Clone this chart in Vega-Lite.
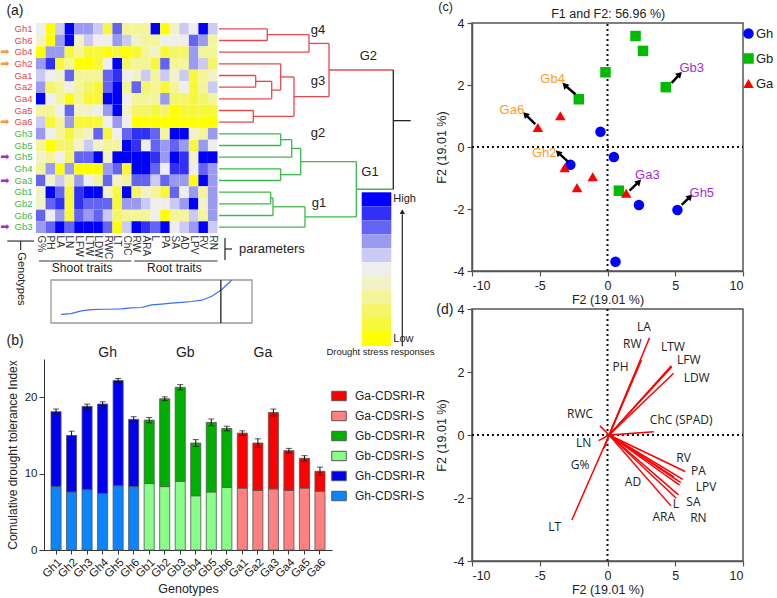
{
"$schema": "https://vega.github.io/schema/vega-lite/v6.json",
"background": "white",
"padding": {"left": 0, "top": 0, "right": 0, "bottom": 0},
"config": {
 "font": "Liberation Sans",
 "view": {"stroke": null},
 "axis": {"grid": false, "labelFont": "Liberation Sans", "titleFont": "Liberation Sans", "titleFontWeight": "normal", "labelColor": "#222", "titleColor": "#222"},
 "legend": {"labelFont": "Liberation Sans", "labelColor": "#222"},
 "text": {"font": "Liberation Sans", "color": "#222"}
},
"datasets": {
 "heat": [
{"g":"Gh1","t":"G%","v":0},{"g":"Gh1","t":"PH","v":-5},{"g":"Gh1","t":"LA","v":1},{"g":"Gh1","t":"LN","v":5},{"g":"Gh1","t":"LFW","v":2},{"g":"Gh1","t":"LTW","v":2},{"g":"Gh1","t":"LDW","v":1},{"g":"Gh1","t":"RWC","v":-4},{"g":"Gh1","t":"LT","v":3},{"g":"Gh1","t":"ChC","v":-2},{"g":"Gh1","t":"RW","v":-2},{"g":"Gh1","t":"ARA","v":-2},{"g":"Gh1","t":"L","v":5},{"g":"Gh1","t":"PA","v":-5},{"g":"Gh1","t":"SA","v":-1},{"g":"Gh1","t":"AD","v":1},{"g":"Gh1","t":"LPV","v":0},{"g":"Gh1","t":"RV","v":5},{"g":"Gh1","t":"RN","v":1},
{"g":"Gh6","t":"G%","v":-1},{"g":"Gh6","t":"PH","v":-5},{"g":"Gh6","t":"LA","v":2},{"g":"Gh6","t":"LN","v":5},{"g":"Gh6","t":"LFW","v":-1},{"g":"Gh6","t":"LTW","v":1},{"g":"Gh6","t":"LDW","v":0},{"g":"Gh6","t":"RWC","v":0},{"g":"Gh6","t":"LT","v":2},{"g":"Gh6","t":"ChC","v":1},{"g":"Gh6","t":"RW","v":-1},{"g":"Gh6","t":"ARA","v":-2},{"g":"Gh6","t":"L","v":-2},{"g":"Gh6","t":"PA","v":0},{"g":"Gh6","t":"SA","v":0},{"g":"Gh6","t":"AD","v":0},{"g":"Gh6","t":"LPV","v":3},{"g":"Gh6","t":"RV","v":2},{"g":"Gh6","t":"RN","v":-2},
{"g":"Gb4","t":"G%","v":-5},{"g":"Gb4","t":"PH","v":2},{"g":"Gb4","t":"LA","v":2},{"g":"Gb4","t":"LN","v":-4},{"g":"Gb4","t":"LFW","v":-2},{"g":"Gb4","t":"LTW","v":-4},{"g":"Gb4","t":"LDW","v":-4},{"g":"Gb4","t":"RWC","v":-5},{"g":"Gb4","t":"LT","v":-4},{"g":"Gb4","t":"ChC","v":-5},{"g":"Gb4","t":"RW","v":-4},{"g":"Gb4","t":"ARA","v":-2},{"g":"Gb4","t":"L","v":-1},{"g":"Gb4","t":"PA","v":-4},{"g":"Gb4","t":"SA","v":-3},{"g":"Gb4","t":"AD","v":-3},{"g":"Gb4","t":"LPV","v":2},{"g":"Gb4","t":"RV","v":-2},{"g":"Gb4","t":"RN","v":-2},
{"g":"Gh2","t":"G%","v":2},{"g":"Gh2","t":"PH","v":4},{"g":"Gh2","t":"LA","v":-4},{"g":"Gh2","t":"LN","v":-2},{"g":"Gh2","t":"LFW","v":-5},{"g":"Gh2","t":"LTW","v":-5},{"g":"Gh2","t":"LDW","v":-4},{"g":"Gh2","t":"RWC","v":0},{"g":"Gh2","t":"LT","v":5},{"g":"Gh2","t":"ChC","v":-3},{"g":"Gh2","t":"RW","v":-2},{"g":"Gh2","t":"ARA","v":-2},{"g":"Gh2","t":"L","v":-4},{"g":"Gh2","t":"PA","v":3},{"g":"Gh2","t":"SA","v":-2},{"g":"Gh2","t":"AD","v":-2},{"g":"Gh2","t":"LPV","v":2},{"g":"Gh2","t":"RV","v":1},{"g":"Gh2","t":"RN","v":-3},
{"g":"Ga1","t":"G%","v":1},{"g":"Ga1","t":"PH","v":0},{"g":"Ga1","t":"LA","v":-1},{"g":"Ga1","t":"LN","v":3},{"g":"Ga1","t":"LFW","v":-2},{"g":"Ga1","t":"LTW","v":-2},{"g":"Ga1","t":"LDW","v":-2},{"g":"Ga1","t":"RWC","v":3},{"g":"Ga1","t":"LT","v":4},{"g":"Ga1","t":"ChC","v":0},{"g":"Ga1","t":"RW","v":-1},{"g":"Ga1","t":"ARA","v":1},{"g":"Ga1","t":"L","v":-2},{"g":"Ga1","t":"PA","v":1},{"g":"Ga1","t":"SA","v":-1},{"g":"Ga1","t":"AD","v":1},{"g":"Ga1","t":"LPV","v":-4},{"g":"Ga1","t":"RV","v":-2},{"g":"Ga1","t":"RN","v":-1},
{"g":"Ga2","t":"G%","v":2},{"g":"Ga2","t":"PH","v":-3},{"g":"Ga2","t":"LA","v":-2},{"g":"Ga2","t":"LN","v":0},{"g":"Ga2","t":"LFW","v":-2},{"g":"Ga2","t":"LTW","v":-3},{"g":"Ga2","t":"LDW","v":-4},{"g":"Ga2","t":"RWC","v":3},{"g":"Ga2","t":"LT","v":5},{"g":"Ga2","t":"ChC","v":-2},{"g":"Ga2","t":"RW","v":3},{"g":"Ga2","t":"ARA","v":-3},{"g":"Ga2","t":"L","v":-2},{"g":"Ga2","t":"PA","v":-4},{"g":"Ga2","t":"SA","v":-2},{"g":"Ga2","t":"AD","v":0},{"g":"Ga2","t":"LPV","v":-4},{"g":"Ga2","t":"RV","v":-2},{"g":"Ga2","t":"RN","v":1},
{"g":"Ga4","t":"G%","v":5},{"g":"Ga4","t":"PH","v":0},{"g":"Ga4","t":"LA","v":-2},{"g":"Ga4","t":"LN","v":-5},{"g":"Ga4","t":"LFW","v":-2},{"g":"Ga4","t":"LTW","v":-4},{"g":"Ga4","t":"LDW","v":-4},{"g":"Ga4","t":"RWC","v":5},{"g":"Ga4","t":"LT","v":5},{"g":"Ga4","t":"ChC","v":0},{"g":"Ga4","t":"RW","v":-2},{"g":"Ga4","t":"ARA","v":-2},{"g":"Ga4","t":"L","v":-2},{"g":"Ga4","t":"PA","v":2},{"g":"Ga4","t":"SA","v":-3},{"g":"Ga4","t":"AD","v":-3},{"g":"Ga4","t":"LPV","v":-4},{"g":"Ga4","t":"RV","v":-3},{"g":"Ga4","t":"RN","v":-2},
{"g":"Ga5","t":"G%","v":-2},{"g":"Ga5","t":"PH","v":-2},{"g":"Ga5","t":"LA","v":0},{"g":"Ga5","t":"LN","v":3},{"g":"Ga5","t":"LFW","v":-1},{"g":"Ga5","t":"LTW","v":-1},{"g":"Ga5","t":"LDW","v":0},{"g":"Ga5","t":"RWC","v":2},{"g":"Ga5","t":"LT","v":5},{"g":"Ga5","t":"ChC","v":-1},{"g":"Ga5","t":"RW","v":-3},{"g":"Ga5","t":"ARA","v":-3},{"g":"Ga5","t":"L","v":-4},{"g":"Ga5","t":"PA","v":-3},{"g":"Ga5","t":"SA","v":-5},{"g":"Ga5","t":"AD","v":-4},{"g":"Ga5","t":"LPV","v":-4},{"g":"Ga5","t":"RV","v":-4},{"g":"Ga5","t":"RN","v":-4},
{"g":"Ga6","t":"G%","v":1},{"g":"Ga6","t":"PH","v":-4},{"g":"Ga6","t":"LA","v":-2},{"g":"Ga6","t":"LN","v":2},{"g":"Ga6","t":"LFW","v":-4},{"g":"Ga6","t":"LTW","v":-4},{"g":"Ga6","t":"LDW","v":-4},{"g":"Ga6","t":"RWC","v":0},{"g":"Ga6","t":"LT","v":2},{"g":"Ga6","t":"ChC","v":0},{"g":"Ga6","t":"RW","v":-5},{"g":"Ga6","t":"ARA","v":-5},{"g":"Ga6","t":"L","v":-5},{"g":"Ga6","t":"PA","v":-5},{"g":"Ga6","t":"SA","v":-5},{"g":"Ga6","t":"AD","v":-5},{"g":"Ga6","t":"LPV","v":-5},{"g":"Ga6","t":"RV","v":-5},{"g":"Ga6","t":"RN","v":-5},
{"g":"Gh3","t":"G%","v":2},{"g":"Gh3","t":"PH","v":0},{"g":"Gh3","t":"LA","v":-2},{"g":"Gh3","t":"LN","v":-4},{"g":"Gh3","t":"LFW","v":-2},{"g":"Gh3","t":"LTW","v":-1},{"g":"Gh3","t":"LDW","v":3},{"g":"Gh3","t":"RWC","v":-4},{"g":"Gh3","t":"LT","v":0},{"g":"Gh3","t":"ChC","v":3},{"g":"Gh3","t":"RW","v":4},{"g":"Gh3","t":"ARA","v":4},{"g":"Gh3","t":"L","v":3},{"g":"Gh3","t":"PA","v":-2},{"g":"Gh3","t":"SA","v":5},{"g":"Gh3","t":"AD","v":5},{"g":"Gh3","t":"LPV","v":-1},{"g":"Gh3","t":"RV","v":-2},{"g":"Gh3","t":"RN","v":2},
{"g":"Gb5","t":"G%","v":-2},{"g":"Gb5","t":"PH","v":-5},{"g":"Gb5","t":"LA","v":-3},{"g":"Gb5","t":"LN","v":-3},{"g":"Gb5","t":"LFW","v":-1},{"g":"Gb5","t":"LTW","v":1},{"g":"Gb5","t":"LDW","v":-1},{"g":"Gb5","t":"RWC","v":-2},{"g":"Gb5","t":"LT","v":-2},{"g":"Gb5","t":"ChC","v":5},{"g":"Gb5","t":"RW","v":4},{"g":"Gb5","t":"ARA","v":0},{"g":"Gb5","t":"L","v":3},{"g":"Gb5","t":"PA","v":2},{"g":"Gb5","t":"SA","v":3},{"g":"Gb5","t":"AD","v":2},{"g":"Gb5","t":"LPV","v":-4},{"g":"Gb5","t":"RV","v":2},{"g":"Gb5","t":"RN","v":0},
{"g":"Gh5","t":"G%","v":-1},{"g":"Gh5","t":"PH","v":-2},{"g":"Gh5","t":"LA","v":0},{"g":"Gh5","t":"LN","v":-3},{"g":"Gh5","t":"LFW","v":3},{"g":"Gh5","t":"LTW","v":3},{"g":"Gh5","t":"LDW","v":5},{"g":"Gh5","t":"RWC","v":-1},{"g":"Gh5","t":"LT","v":5},{"g":"Gh5","t":"ChC","v":5},{"g":"Gh5","t":"RW","v":5},{"g":"Gh5","t":"ARA","v":5},{"g":"Gh5","t":"L","v":4},{"g":"Gh5","t":"PA","v":2},{"g":"Gh5","t":"SA","v":5},{"g":"Gh5","t":"AD","v":4},{"g":"Gh5","t":"LPV","v":-1},{"g":"Gh5","t":"RV","v":5},{"g":"Gh5","t":"RN","v":5},
{"g":"Gh4","t":"G%","v":-2},{"g":"Gh4","t":"PH","v":2},{"g":"Gh4","t":"LA","v":-5},{"g":"Gh4","t":"LN","v":2},{"g":"Gh4","t":"LFW","v":-5},{"g":"Gh4","t":"LTW","v":-5},{"g":"Gh4","t":"LDW","v":-5},{"g":"Gh4","t":"RWC","v":2},{"g":"Gh4","t":"LT","v":3},{"g":"Gh4","t":"ChC","v":-4},{"g":"Gh4","t":"RW","v":5},{"g":"Gh4","t":"ARA","v":5},{"g":"Gh4","t":"L","v":3},{"g":"Gh4","t":"PA","v":0},{"g":"Gh4","t":"SA","v":4},{"g":"Gh4","t":"AD","v":4},{"g":"Gh4","t":"LPV","v":0},{"g":"Gh4","t":"RV","v":3},{"g":"Gh4","t":"RN","v":2},
{"g":"Ga3","t":"G%","v":3},{"g":"Ga3","t":"PH","v":-1},{"g":"Ga3","t":"LA","v":1},{"g":"Ga3","t":"LN","v":-2},{"g":"Ga3","t":"LFW","v":2},{"g":"Ga3","t":"LTW","v":0},{"g":"Ga3","t":"LDW","v":-2},{"g":"Ga3","t":"RWC","v":3},{"g":"Ga3","t":"LT","v":-1},{"g":"Ga3","t":"ChC","v":-2},{"g":"Ga3","t":"RW","v":3},{"g":"Ga3","t":"ARA","v":3},{"g":"Ga3","t":"L","v":1},{"g":"Ga3","t":"PA","v":3},{"g":"Ga3","t":"SA","v":2},{"g":"Ga3","t":"AD","v":2},{"g":"Ga3","t":"LPV","v":-5},{"g":"Ga3","t":"RV","v":5},{"g":"Ga3","t":"RN","v":2},
{"g":"Gb1","t":"G%","v":-1},{"g":"Gb1","t":"PH","v":5},{"g":"Gb1","t":"LA","v":3},{"g":"Gb1","t":"LN","v":-4},{"g":"Gb1","t":"LFW","v":4},{"g":"Gb1","t":"LTW","v":5},{"g":"Gb1","t":"LDW","v":5},{"g":"Gb1","t":"RWC","v":-1},{"g":"Gb1","t":"LT","v":-4},{"g":"Gb1","t":"ChC","v":5},{"g":"Gb1","t":"RW","v":-3},{"g":"Gb1","t":"ARA","v":-1},{"g":"Gb1","t":"L","v":-2},{"g":"Gb1","t":"PA","v":-4},{"g":"Gb1","t":"SA","v":3},{"g":"Gb1","t":"AD","v":0},{"g":"Gb1","t":"LPV","v":2},{"g":"Gb1","t":"RV","v":-2},{"g":"Gb1","t":"RN","v":2},
{"g":"Gb2","t":"G%","v":-1},{"g":"Gb2","t":"PH","v":3},{"g":"Gb2","t":"LA","v":4},{"g":"Gb2","t":"LN","v":-4},{"g":"Gb2","t":"LFW","v":4},{"g":"Gb2","t":"LTW","v":3},{"g":"Gb2","t":"LDW","v":3},{"g":"Gb2","t":"RWC","v":3},{"g":"Gb2","t":"LT","v":-4},{"g":"Gb2","t":"ChC","v":2},{"g":"Gb2","t":"RW","v":2},{"g":"Gb2","t":"ARA","v":1},{"g":"Gb2","t":"L","v":0},{"g":"Gb2","t":"PA","v":0},{"g":"Gb2","t":"SA","v":1},{"g":"Gb2","t":"AD","v":2},{"g":"Gb2","t":"LPV","v":5},{"g":"Gb2","t":"RV","v":-1},{"g":"Gb2","t":"RN","v":2},
{"g":"Gb6","t":"G%","v":3},{"g":"Gb6","t":"PH","v":0},{"g":"Gb6","t":"LA","v":2},{"g":"Gb6","t":"LN","v":-4},{"g":"Gb6","t":"LFW","v":3},{"g":"Gb6","t":"LTW","v":2},{"g":"Gb6","t":"LDW","v":3},{"g":"Gb6","t":"RWC","v":1},{"g":"Gb6","t":"LT","v":-3},{"g":"Gb6","t":"ChC","v":-2},{"g":"Gb6","t":"RW","v":-2},{"g":"Gb6","t":"ARA","v":-2},{"g":"Gb6","t":"L","v":0},{"g":"Gb6","t":"PA","v":-5},{"g":"Gb6","t":"SA","v":-2},{"g":"Gb6","t":"AD","v":-2},{"g":"Gb6","t":"LPV","v":1},{"g":"Gb6","t":"RV","v":-2},{"g":"Gb6","t":"RN","v":2},
{"g":"Gb3","t":"G%","v":2},{"g":"Gb3","t":"PH","v":3},{"g":"Gb3","t":"LA","v":5},{"g":"Gb3","t":"LN","v":3},{"g":"Gb3","t":"LFW","v":5},{"g":"Gb3","t":"LTW","v":5},{"g":"Gb3","t":"LDW","v":5},{"g":"Gb3","t":"RWC","v":3},{"g":"Gb3","t":"LT","v":-5},{"g":"Gb3","t":"ChC","v":1},{"g":"Gb3","t":"RW","v":5},{"g":"Gb3","t":"ARA","v":4},{"g":"Gb3","t":"L","v":3},{"g":"Gb3","t":"PA","v":5},{"g":"Gb3","t":"SA","v":0},{"g":"Gb3","t":"AD","v":1},{"g":"Gb3","t":"LPV","v":2},{"g":"Gb3","t":"RV","v":5},{"g":"Gb3","t":"RN","v":1}
 ],
 "dseg": [
{"x":0,"x2":48.3,"y":0,"y2":0,"c":"r"},{"x":0,"x2":48.3,"y":1,"y2":1,"c":"r"},{"x":0,"x2":90,"y":2,"y2":2,"c":"r"},{"x":0,"x2":61.7,"y":3,"y2":3,"c":"r"},{"x":0,"x2":36.7,"y":4,"y2":4,"c":"r"},{"x":0,"x2":36.7,"y":5,"y2":5,"c":"r"},{"x":0,"x2":52.7,"y":6,"y2":6,"c":"r"},{"x":0,"x2":34.3,"y":7,"y2":7,"c":"r"},{"x":0,"x2":34.3,"y":8,"y2":8,"c":"r"},
{"x":48.3,"x2":48.3,"y":0,"y2":1,"c":"r"},{"x":48.3,"x2":90,"y":0.5,"y2":0.5,"c":"r"},{"x":90,"x2":90,"y":0.5,"y2":2,"c":"r"},{"x":90,"x2":110,"y":1.25,"y2":1.25,"c":"r"},
{"x":36.7,"x2":36.7,"y":4,"y2":5,"c":"r"},{"x":36.7,"x2":52.7,"y":4.5,"y2":4.5,"c":"r"},{"x":52.7,"x2":52.7,"y":4.5,"y2":6,"c":"r"},{"x":52.7,"x2":61.7,"y":5.25,"y2":5.25,"c":"r"},{"x":61.7,"x2":61.7,"y":3,"y2":5.25,"c":"r"},{"x":61.7,"x2":75,"y":4.125,"y2":4.125,"c":"r"},
{"x":34.3,"x2":34.3,"y":7,"y2":8,"c":"r"},{"x":34.3,"x2":75,"y":7.5,"y2":7.5,"c":"r"},{"x":75,"x2":75,"y":4.125,"y2":7.5,"c":"r"},{"x":75,"x2":110,"y":5.81,"y2":5.81,"c":"r"},{"x":110,"x2":110,"y":1.25,"y2":5.81,"c":"r"},{"x":110,"x2":174.3,"y":3.53,"y2":3.53,"c":"r"},
{"x":0,"x2":61.7,"y":9,"y2":9,"c":"g"},{"x":0,"x2":61.7,"y":10,"y2":10,"c":"g"},{"x":0,"x2":72.7,"y":11,"y2":11,"c":"g"},{"x":0,"x2":61.7,"y":12,"y2":12,"c":"g"},{"x":0,"x2":61.7,"y":13,"y2":13,"c":"g"},{"x":0,"x2":51.7,"y":14,"y2":14,"c":"g"},{"x":0,"x2":51.7,"y":15,"y2":15,"c":"g"},{"x":0,"x2":54,"y":16,"y2":16,"c":"g"},{"x":0,"x2":86,"y":17,"y2":17,"c":"g"},
{"x":61.7,"x2":61.7,"y":9,"y2":10,"c":"g"},{"x":61.7,"x2":72.7,"y":9.5,"y2":9.5,"c":"g"},{"x":72.7,"x2":72.7,"y":9.5,"y2":11,"c":"g"},{"x":72.7,"x2":81.7,"y":10.25,"y2":10.25,"c":"g"},{"x":61.7,"x2":61.7,"y":12,"y2":13,"c":"g"},{"x":61.7,"x2":81.7,"y":12.5,"y2":12.5,"c":"g"},{"x":81.7,"x2":81.7,"y":10.25,"y2":12.5,"c":"g"},{"x":81.7,"x2":137.3,"y":11.375,"y2":11.375,"c":"g"},
{"x":51.7,"x2":51.7,"y":14,"y2":15,"c":"g"},{"x":51.7,"x2":54,"y":14.5,"y2":14.5,"c":"g"},{"x":54,"x2":54,"y":14.5,"y2":16,"c":"g"},{"x":54,"x2":86,"y":15.25,"y2":15.25,"c":"g"},{"x":86,"x2":86,"y":15.25,"y2":17,"c":"g"},{"x":86,"x2":137.3,"y":16.125,"y2":16.125,"c":"g"},{"x":137.3,"x2":137.3,"y":11.375,"y2":16.125,"c":"g"},{"x":137.3,"x2":174.3,"y":13.75,"y2":13.75,"c":"g"},
{"x":174.3,"x2":174.3,"y":3.53,"y2":13.75,"c":"k"},{"x":174.3,"x2":191.7,"y":7.87,"y2":7.87,"c":"k"}
 ],
 "bars": [
{"g":"Gh1","p":"S","s":"Gh-CDSRI-S","v":8.3},{"g":"Gh1","p":"R","s":"Gh-CDSRI-R","v":9.8},
{"g":"Gh2","p":"S","s":"Gh-CDSRI-S","v":7.6},{"g":"Gh2","p":"R","s":"Gh-CDSRI-R","v":7.4},
{"g":"Gh3","p":"S","s":"Gh-CDSRI-S","v":7.9},{"g":"Gh3","p":"R","s":"Gh-CDSRI-R","v":10.9},
{"g":"Gh4","p":"S","s":"Gh-CDSRI-S","v":7.4},{"g":"Gh4","p":"R","s":"Gh-CDSRI-R","v":11.7},
{"g":"Gh5","p":"S","s":"Gh-CDSRI-S","v":8.4},{"g":"Gh5","p":"R","s":"Gh-CDSRI-R","v":13.8},
{"g":"Gh6","p":"S","s":"Gh-CDSRI-S","v":8.3},{"g":"Gh6","p":"R","s":"Gh-CDSRI-R","v":8.8},
{"g":"Gb1","p":"S","s":"Gb-CDSRI-S","v":8.7},{"g":"Gb1","p":"R","s":"Gb-CDSRI-R","v":8.3},
{"g":"Gb2","p":"S","s":"Gb-CDSRI-S","v":8.3},{"g":"Gb2","p":"R","s":"Gb-CDSRI-R","v":11.5},
{"g":"Gb3","p":"S","s":"Gb-CDSRI-S","v":9.0},{"g":"Gb3","p":"R","s":"Gb-CDSRI-R","v":12.3},
{"g":"Gb4","p":"S","s":"Gb-CDSRI-S","v":7.1},{"g":"Gb4","p":"R","s":"Gb-CDSRI-R","v":6.9},
{"g":"Gb5","p":"S","s":"Gb-CDSRI-S","v":7.6},{"g":"Gb5","p":"R","s":"Gb-CDSRI-R","v":9.1},
{"g":"Gb6","p":"S","s":"Gb-CDSRI-S","v":8.2},{"g":"Gb6","p":"R","s":"Gb-CDSRI-R","v":7.7},
{"g":"Ga1","p":"S","s":"Ga-CDSRI-S","v":8.1},{"g":"Ga1","p":"R","s":"Ga-CDSRI-R","v":7.2},
{"g":"Ga2","p":"S","s":"Ga-CDSRI-S","v":7.8},{"g":"Ga2","p":"R","s":"Ga-CDSRI-R","v":6.2},
{"g":"Ga3","p":"S","s":"Ga-CDSRI-S","v":8.0},{"g":"Ga3","p":"R","s":"Ga-CDSRI-R","v":10.0},
{"g":"Ga4","p":"S","s":"Ga-CDSRI-S","v":7.8},{"g":"Ga4","p":"R","s":"Ga-CDSRI-R","v":5.2},
{"g":"Ga5","p":"S","s":"Ga-CDSRI-S","v":8.1},{"g":"Ga5","p":"R","s":"Ga-CDSRI-R","v":3.9},
{"g":"Ga6","p":"S","s":"Ga-CDSRI-S","v":7.7},{"g":"Ga6","p":"R","s":"Ga-CDSRI-R","v":2.6}
 ],
 "totals": [
{"g":"Gh1","total":18.1,"err":0.35},{"g":"Gh2","total":15.0,"err":0.55},{"g":"Gh3","total":18.8,"err":0.3},{"g":"Gh4","total":19.1,"err":0.3},{"g":"Gh5","total":22.2,"err":0.25},{"g":"Gh6","total":17.1,"err":0.35},
{"g":"Gb1","total":17.0,"err":0.35},{"g":"Gb2","total":19.8,"err":0.25},{"g":"Gb3","total":21.3,"err":0.35},{"g":"Gb4","total":14.0,"err":0.45},{"g":"Gb5","total":16.7,"err":0.45},{"g":"Gb6","total":15.9,"err":0.3},
{"g":"Ga1","total":15.3,"err":0.3},{"g":"Ga2","total":14.0,"err":0.55},{"g":"Ga3","total":18.0,"err":0.45},{"g":"Ga4","total":13.0,"err":0.3},{"g":"Ga5","total":12.0,"err":0.35},{"g":"Ga6","total":10.3,"err":0.55}
 ],
 "pca": [
{"grp":"Gh","x":-0.52,"y":0.49},{"grp":"Gh","x":0.47,"y":-0.32},{"grp":"Gh","x":-2.74,"y":-0.57},{"grp":"Gh","x":2.32,"y":-1.87},{"grp":"Gh","x":5.16,"y":-2.03},{"grp":"Gh","x":0.59,"y":-3.7},
{"grp":"Gb","x":2.07,"y":3.58},{"grp":"Gb","x":2.62,"y":3.1},{"grp":"Gb","x":-0.15,"y":2.41},{"grp":"Gb","x":4.3,"y":1.93},{"grp":"Gb","x":-2.12,"y":1.54},{"grp":"Gb","x":0.84,"y":-1.41},
{"grp":"Ga","x":-3.48,"y":1.01},{"grp":"Ga","x":-5.14,"y":0.63},{"grp":"Ga","x":-3.16,"y":-0.67},{"grp":"Ga","x":-1.09,"y":-0.96},{"grp":"Ga","x":-2.25,"y":-1.31},{"grp":"Ga","x":1.38,"y":-1.49}
 ],
 "arr": [
{"x":4.74,"y":2.07,"x2":5.33,"y2":2.35,"dir":"ne"},{"x":-2.37,"y":1.7,"x2":-3.16,"y2":2.0,"dir":"nw"},{"x":-5.33,"y":0.74,"x2":-6.07,"y2":1.05,"dir":"nw"},{"x":-2.91,"y":-0.47,"x2":-3.65,"y2":-0.18,"dir":"nw"},{"x":1.63,"y":-1.41,"x2":2.32,"y2":-1.12,"dir":"ne"},{"x":5.48,"y":-1.87,"x2":6.1,"y2":-1.6,"dir":"ne"}
 ],
 "pcalab": [
{"x":6.22,"y":2.54,"t":"Gb3","lc":"p"},{"x":-4.05,"y":2.18,"t":"Gb4","lc":"o"},{"x":-7.06,"y":1.19,"t":"Ga6","lc":"o"},{"x":-4.67,"y":-0.2,"t":"Gh2","lc":"o"},{"x":2.94,"y":-0.9,"t":"Ga3","lc":"p"},{"x":6.96,"y":-1.47,"t":"Gh5","lc":"p"}
 ],
 "load": [
{"t":"LA","x":3.1,"y":3.09},{"t":"RW","x":2.51,"y":2.38},{"t":"PH","x":1.83,"y":1.75},{"t":"LTW","x":4.71,"y":2.2},{"t":"LFW","x":4.75,"y":2.17},{"t":"LDW","x":4.88,"y":1.96},{"t":"ChC","x":3.42,"y":0.1},{"t":"RWC","x":-0.56,"y":0.29},{"t":"LN","x":-0.66,"y":-0.18},{"t":"G%","x":-0.24,"y":-0.42},{"t":"LT","x":-2.63,"y":-2.7},{"t":"RV","x":5.73,"y":-1.16},{"t":"PA","x":5.56,"y":-1.41},{"t":"LPV","x":5.41,"y":-1.51},{"t":"AD","x":4.92,"y":-1.34},{"t":"RN","x":5.32,"y":-1.59},{"t":"SA","x":5.24,"y":-1.9},{"t":"ARA","x":5.07,"y":-2.01},{"t":"L","x":4.68,"y":-2.25}
 ],
 "loadlab": [
{"t":"LA","x":2.68,"y":3.44},{"t":"RW","x":1.83,"y":2.88},{"t":"PH","x":0.97,"y":2.17},{"t":"LTW","x":4.83,"y":2.8},{"t":"LFW","x":6.0,"y":2.38},{"t":"LDW","x":6.58,"y":1.8},{"t":"ChC (SPAD)","x":5.44,"y":0.48},{"t":"RWC","x":-2.02,"y":0.67},{"t":"LN","x":-1.76,"y":-0.26},{"t":"G%","x":-2.02,"y":-0.95},{"t":"AD","x":1.88,"y":-1.48},{"t":"RV","x":5.61,"y":-0.74},{"t":"PA","x":6.71,"y":-1.14},{"t":"LPV","x":7.27,"y":-1.64},{"t":"SA","x":6.34,"y":-2.12},{"t":"L","x":5.05,"y":-2.19},{"t":"RN","x":6.71,"y":-2.62},{"t":"ARA","x":4.15,"y":-2.61},{"t":"LT","x":-3.9,"y":-2.93}
 ]
},
"spacing": 0,
"resolve": {"scale": {"color": "independent", "shape": "independent", "stroke": "independent"}},
"hconcat": [
 {
  "spacing": 126,
  "bounds": "flush",
  "resolve": {"scale": {"color": "independent", "shape": "independent", "stroke": "independent"}},
  "vconcat": [
   {
    "width": 367, "height": 210,
    "resolve": {"scale": {"x": "independent", "y": "independent"}},
    "layer": [
     {
      "data": {"name": "heat"},
      "layer": [
       {
        "mark": {"type": "rect"},
        "encoding": {
         "x": {"field": "t", "type": "nominal", "title": null,
               "sort": ["G%","PH","LA","LN","LFW","LTW","LDW","RWC","LT","ChC","RW","ARA","L","PA","SA","AD","LPV","RV","RN"],
               "scale": {"range": [-8, 173.5], "paddingInner": 0, "paddingOuter": 0},
               "axis": {"orient": "bottom", "labelAngle": 90, "ticks": false, "domain": false, "labelPadding": 2, "labelFontSize": 10, "labelColor": "#333"}},
         "y": {"field": "g", "type": "nominal", "title": null,
               "sort": ["Gh1","Gh6","Gb4","Gh2","Ga1","Ga2","Ga4","Ga5","Ga6","Gh3","Gb5","Gh5","Gh4","Ga3","Gb1","Gb2","Gb6","Gb3"],
               "scale": {"paddingInner": 0, "paddingOuter": 0},
               "axis": {"ticks": false, "domain": false, "labelPadding": 12, "labelFontSize": 9.5,
                        "labelColor": {"condition": {"test": "indexof(['Gh1','Gh6','Gb4','Gh2','Ga1','Ga2','Ga4','Ga5','Ga6'], datum.value) >= 0", "value": "#E2474F"}, "value": "#3DB54A"}}},
         "color": {"field": "v", "type": "ordinal", "legend": null,
                   "scale": {"domain": [-5,-4,-3,-2,-1,0,1,2,3,4,5], "range": ["#FFFF00","#F8F83A","#F5F56A","#F4F498","#F2F2C8","#EEEEEE","#CACAF4","#9A9AF2","#6464F4","#3030F8","#0000FF"]}}
        }
       },
       {
        "data": {"values": [{"g":"Gb4","c":"o"},{"g":"Gh2","c":"o"},{"g":"Ga6","c":"o"},{"g":"Gh5","c":"p"},{"g":"Ga3","c":"p"},{"g":"Gb3","c":"p"}]},
        "mark": {"type": "text", "text": "➡", "font": "DejaVu Sans", "fontSize": 11, "dx": -36},
        "encoding": {
         "x": {"datum": "G%", "type": "nominal"},
         "y": {"field": "g", "type": "nominal", "sort": ["Gh1","Gh6","Gb4","Gh2","Ga1","Ga2","Ga4","Ga5","Ga6","Gh3","Gb5","Gh5","Gh4","Ga3","Gb1","Gb2","Gb6","Gb3"]},
         "color": {"condition": {"test": "datum.c == 'o'", "value": "#F7963C"}, "value": "#9B30C8"}
        }
       }
      ]
     },
     {
      "encoding": {
       "x": {"field": "x", "type": "quantitative", "scale": {"domain": [0, 19], "range": [-8, 173.5], "nice": false, "zero": false}, "axis": null},
       "y": {"field": "y", "type": "quantitative", "scale": {"domain": [-0.5, 17.5], "range": [0, 210], "nice": false, "zero": false}, "axis": null}
      },
      "layer": [
       {
        "data": {"values": [{"x":0.31,"x2":9.97,"y":19.9,"y2":19.9},{"x":10.28,"x2":19.0,"y":19.9,"y2":19.9},{"x":-3.01,"x2":-0.21,"y":18.19,"y2":18.19},{"x":-1.61,"x2":-1.61,"y":18.19,"y2":18.96}]},
        "mark": {"type": "rule", "color": "#333", "strokeWidth": 1.2},
        "encoding": {"x2": {"field": "x2"}, "y2": {"field": "y2"}}
       },
       {
        "data": {"values": [{"x":4.83,"y":20.5,"label":"Shoot traits"},{"x":14.48,"y":20.5,"label":"Root traits"}]},
        "mark": {"type": "text", "fontSize": 12},
        "encoding": {"text": {"field": "label"}}
       },
       {
        "data": {"values": [{"x":-1.61,"y":21.44,"label":"Genotypes"}]},
        "mark": {"type": "text", "fontSize": 11, "angle": 90},
        "encoding": {"text": {"field": "label"}}
       },
       {
        "data": {"values": [{"x":-2.2,"y":-1.53,"label":"(a)"}]},
        "mark": {"type": "text", "fontSize": 14},
        "encoding": {"text": {"field": "label"}}
       }
      ]
     },
     {
      "encoding": {
       "x": {"field": "x", "type": "quantitative", "scale": {"domain": [0, 192], "range": [175, 367], "nice": false, "zero": false}, "axis": null},
       "y": {"field": "y", "type": "quantitative", "scale": {"domain": [-0.5, 17.5], "range": [0, 210], "nice": false, "zero": false}, "axis": null}
      },
      "layer": [
       {
        "data": {"name": "dseg"},
        "mark": {"type": "rule", "strokeWidth": 1.3},
        "encoding": {
         "x2": {"field": "x2"}, "y2": {"field": "y2"},
         "stroke": {"field": "c", "type": "nominal", "legend": null, "scale": {"domain": ["r","g","k"], "range": ["#E5484F","#3CB94A","#222222"]}}
        }
       },
       {
        "data": {"values": [{"x":6,"x2":6,"y":17.93,"y2":19.81},{"x":6,"x2":13,"y":18.87,"y2":18.87},{"x":183.3,"x2":183.3,"y":27.2,"y2":15.9}]},
        "mark": {"type": "rule", "color": "#222", "strokeWidth": 1.2},
        "encoding": {"x2": {"field": "x2"}, "y2": {"field": "y2"}}
       },
       {
        "data": {"values": [{"x":183.3,"y":15.67}]},
        "mark": {"type": "point", "shape": "triangle-up", "filled": true, "size": 28, "color": "#222", "opacity": 1}
       },
       {
        "data": {"values": [{"x":91.7,"y":0.07,"label":"g4"},{"x":91.7,"y":4.5,"label":"g3"},{"x":140.7,"y":2.36,"label":"G2"},{"x":91.7,"y":8.96,"label":"g2"},{"x":142.3,"y":12.25,"label":"G1"},{"x":92.7,"y":14.96,"label":"g1"}]},
        "mark": {"type": "text", "fontSize": 13, "align": "left"},
        "encoding": {"text": {"field": "label"}}
       },
       {
        "data": {"values": [{"x":20,"y":18.87,"label":"parameters"}]},
        "mark": {"type": "text", "fontSize": 13, "align": "left"},
        "encoding": {"text": {"field": "label"}}
       },
       {
        "data": {"values": [{"x":161.5,"y":27.7,"label":"Drought stress responses"}]},
        "mark": {"type": "text", "fontSize": 9.5},
        "encoding": {"text": {"field": "label"}}
       }
      ]
     },
     {
      "layer": [
       {
        "data": {"values": [{"v":5},{"v":4},{"v":3},{"v":2},{"v":1},{"v":0},{"v":-1},{"v":-2},{"v":-3},{"v":-4},{"v":-5}]},
        "mark": {"type": "rect"},
        "encoding": {
         "x": {"datum": 0, "type": "quantitative", "scale": {"domain": [0, 1], "range": [317.7, 347.3], "nice": false, "zero": false}, "axis": null},
         "x2": {"datum": 1},
         "y": {"field": "v", "type": "ordinal", "sort": "descending", "scale": {"range": [169.3, 323], "paddingInner": 0, "paddingOuter": 0}, "axis": null},
         "color": {"field": "v", "type": "ordinal", "legend": null}
        }
       },
       {
        "data": {"values": [{"v":5,"label":"High"},{"v":-5,"label":"Low"}]},
        "mark": {"type": "text", "align": "left", "dx": 2, "fontSize": 11},
        "encoding": {
         "x": {"datum": 1, "type": "quantitative"},
         "y": {"field": "v", "type": "ordinal", "sort": "descending"},
         "text": {"field": "label"}
        }
       }
      ]
     },
     {
      "layer": [
       {
        "data": {"values": [{"k": "box"}]},
        "mark": {"type": "rect", "fill": "white", "fillOpacity": 0, "stroke": "#9a9a9a", "strokeWidth": 1.3},
        "encoding": {
         "x": {"datum": 0, "type": "quantitative", "scale": {"domain": [0, 20], "range": [7, 208], "nice": false, "zero": false}, "axis": null},
         "x2": {"datum": 20},
         "y": {"datum": 0, "type": "quantitative", "scale": {"domain": [0, 10], "range": [300, 257], "nice": false, "zero": false}, "axis": null},
         "y2": {"datum": 10}
        }
       },
       {
        "data": {"values": [{"i":1,"v":2.0},{"i":2,"v":2.2},{"i":3,"v":2.8},{"i":4,"v":3.1},{"i":5,"v":3.2},{"i":6,"v":3.2},{"i":7,"v":3.3},{"i":8,"v":3.5},{"i":9,"v":3.6},{"i":10,"v":4.2},{"i":11,"v":4.4},{"i":12,"v":4.6},{"i":13,"v":4.8},{"i":14,"v":5.0},{"i":15,"v":5.3},{"i":16,"v":6.2},{"i":17,"v":7.8},{"i":18,"v":10.0}]},
        "mark": {"type": "line", "color": "#3C6EF0", "strokeWidth": 1.2},
        "encoding": {
         "x": {"field": "i", "type": "quantitative"},
         "y": {"field": "v", "type": "quantitative"}
        }
       },
       {
        "data": {"values": [{"k": "cut"}]},
        "mark": {"type": "rule", "color": "#222", "strokeWidth": 1.3},
        "encoding": {
         "x": {"datum": 16.9, "type": "quantitative"},
         "y": {"datum": 0, "type": "quantitative"},
         "y2": {"datum": 10}
        }
       }
      ]
     }
    ]
   },
   {
    "width": 288, "height": 191,
    "layer": [
     {
      "data": {"name": "bars"},
      "mark": {"type": "bar", "stroke": "#555", "strokeWidth": 0.8},
      "encoding": {
       "x": {"field": "g", "type": "nominal", "title": "Genotypes",
             "sort": ["Gh1","Gh2","Gh3","Gh4","Gh5","Gh6","Gb1","Gb2","Gb3","Gb4","Gb5","Gb6","Ga1","Ga2","Ga3","Ga4","Ga5","Ga6"],
             "scale": {"paddingInner": 0.35, "paddingOuter": 0.45},
             "axis": {"labelAngle": -45, "labelFontSize": 11.5, "titleFontSize": 12.5, "titlePadding": 3, "tickSize": 4, "labelPadding": 2, "domainColor": "#333", "tickColor": "#333"}},
       "y": {"field": "v", "type": "quantitative", "stack": "zero", "title": "Comulative drought tolerance Index",
             "scale": {"domain": [0, 25], "nice": false},
             "axis": {"values": [0,5,10,15,20,25], "labelFontSize": 11.5, "titleFontSize": 12, "tickSize": 5, "titlePadding": 5, "domainColor": "#333", "tickColor": "#333"}},
       "color": {"field": "s", "type": "nominal",
                 "scale": {"domain": ["Ga-CDSRI-R","Ga-CDSRI-S","Gb-CDSRI-R","Gb-CDSRI-S","Gh-CDSRI-R","Gh-CDSRI-S"], "range": ["#FF0000","#FF8080","#00B000","#88FF88","#0000F0","#0A84FF"]},
                 "legend": {"orient": "none", "legendX": 287, "legendY": 29, "title": null, "symbolType": "M-1,-0.65H1V0.65H-1Z", "symbolSize": 210, "symbolStrokeColor": "#555", "symbolStrokeWidth": 1, "labelFontSize": 12, "rowPadding": 5, "labelOffset": 8}},
       "order": {"field": "p", "sort": "descending"}
      }
     },
     {
      "data": {"name": "totals"},
      "mark": {"type": "errorbar", "ticks": {"size": 6}, "color": "#111", "thickness": 1},
      "encoding": {
       "x": {"field": "g", "type": "nominal", "title": "Genotypes", "sort": ["Gh1","Gh2","Gh3","Gh4","Gh5","Gh6","Gb1","Gb2","Gb3","Gb4","Gb5","Gb6","Ga1","Ga2","Ga3","Ga4","Ga5","Ga6"]},
       "y": {"field": "total", "type": "quantitative", "title": "Comulative drought tolerance Index"},
       "yError": {"field": "err"}
      }
     },
     {
      "data": {"values": [{"g":"Gh4","label":"Gh"},{"g":"Gb3","label":"Gb"},{"g":"Ga2","label":"Ga"}]},
      "mark": {"type": "text", "fontSize": 14, "dx": 5},
      "encoding": {
       "x": {"field": "g", "type": "nominal", "title": "Genotypes", "sort": ["Gh1","Gh2","Gh3","Gh4","Gh5","Gh6","Gb1","Gb2","Gb3","Gb4","Gb5","Gb6","Ga1","Ga2","Ga3","Ga4","Ga5","Ga6"]},
       "y": {"datum": 25.8, "type": "quantitative"},
       "text": {"field": "label"}
      }
     },
     {
      "data": {"values": [{"g":"Gh1","label":"(b)"}]},
      "mark": {"type": "text", "fontSize": 14, "dx": -41},
      "encoding": {
       "x": {"field": "g", "type": "nominal", "title": "Genotypes", "sort": ["Gh1","Gh2","Gh3","Gh4","Gh5","Gh6","Gb1","Gb2","Gb3","Gb4","Gb5","Gb6","Ga1","Ga2","Ga3","Ga4","Ga5","Ga6"]},
       "y": {"datum": 27.4, "type": "quantitative"},
       "text": {"field": "label"}
      }
     }
    ]
   }
  ]
 },
 {
  "spacing": 38,
  "bounds": "flush",
  "resolve": {"scale": {"color": "independent", "shape": "independent", "stroke": "independent"}},
  "vconcat": [
   {
    "width": 271, "height": 248,
    "view": {"stroke": "#555", "strokeWidth": 1.5},
    "encoding": {
     "x": {"field": "x", "type": "quantitative", "title": "F2 (19.01 %)", "scale": {"domain": [-10, 10], "nice": false, "zero": false},
           "axis": {"values": [-10,-5,0,5,10], "labelExpr": "datum.value + ''", "labelFontSize": 12.5, "titleFontSize": 12.5, "tickSize": 5, "labelPadding": 3, "titlePadding": 2, "domainColor": "#555", "domainWidth": 1.5, "tickColor": "#555", "tickWidth": 1.2}},
     "y": {"field": "y", "type": "quantitative", "title": "F2 (19.01 %)", "scale": {"domain": [-4, 4], "nice": false, "zero": false},
           "axis": {"values": [-4,-2,0,2,4], "labelExpr": "datum.value + ''", "labelFontSize": 12.5, "titleFontSize": 12.5, "tickSize": 5, "labelPadding": 3, "titlePadding": 4, "domainColor": "#555", "domainWidth": 1.5, "tickColor": "#555", "tickWidth": 1.2}}
    },
    "layer": [
     {
      "data": {"values": [{"x": 0, "y": -4, "y2": 4}]},
      "mark": {"type": "rule", "strokeDash": [2, 3], "strokeWidth": 2, "color": "#111"},
      "encoding": {"y2": {"field": "y2"}}
     },
     {
      "data": {"values": [{"x": -10, "x2": 10, "y": 0}]},
      "mark": {"type": "rule", "strokeDash": [2, 3], "strokeWidth": 2, "color": "#111"},
      "encoding": {"x2": {"field": "x2"}}
     },
     {
      "data": {"name": "pca"},
      "mark": {"type": "point", "filled": true, "size": 110, "opacity": 1},
      "encoding": {
       "color": {"field": "grp", "type": "nominal", "scale": {"domain": ["Gh","Gb","Ga"], "range": ["#0000FF","#00BB00","#FF0000"]},
                 "legend": {"orient": "none", "legendX": 270, "legendY": 4, "title": null, "labelFontSize": 13, "symbolSize": 110, "rowPadding": 11, "labelOffset": 1}},
       "shape": {"field": "grp", "type": "nominal", "scale": {"domain": ["Gh","Gb","Ga"], "range": ["circle","square","triangle-up"]},
                 "legend": {"orient": "none", "legendX": 270, "legendY": 4, "title": null, "labelFontSize": 13, "symbolSize": 110, "rowPadding": 11, "labelOffset": 1}}
      }
     },
     {
      "data": {"name": "arr"},
      "mark": {"type": "rule", "strokeWidth": 2.5, "color": "#000"},
      "encoding": {"x2": {"field": "x2"}, "y2": {"field": "y2"}}
     },
     {
      "data": {"name": "arr"},
      "transform": [{"filter": "datum.dir == 'ne'"}],
      "mark": {"type": "point", "shape": "triangle-up", "filled": true, "size": 50, "color": "#000", "angle": 45, "opacity": 1},
      "encoding": {"x": {"field": "x2", "type": "quantitative", "title": "F2 (19.01 %)"}, "y": {"field": "y2", "type": "quantitative", "title": "F2 (19.01 %)"}}
     },
     {
      "data": {"name": "arr"},
      "transform": [{"filter": "datum.dir == 'nw'"}],
      "mark": {"type": "point", "shape": "triangle-up", "filled": true, "size": 50, "color": "#000", "angle": 315, "opacity": 1},
      "encoding": {"x": {"field": "x2", "type": "quantitative", "title": "F2 (19.01 %)"}, "y": {"field": "y2", "type": "quantitative", "title": "F2 (19.01 %)"}}
     },
     {
      "data": {"name": "pcalab"},
      "mark": {"type": "text", "fontSize": 13},
      "encoding": {
       "text": {"field": "t"},
       "color": {"condition": {"test": "datum.lc == 'o'", "value": "#FF9B26"}, "value": "#A12FD8"}
      }
     },
     {
      "data": {"values": [{"x": 0.05, "y": 4.29, "t": "F1 and F2: 56.96 %)"}, {"x": -11.95, "y": 4.52, "t": "(c)"}]},
      "mark": {"type": "text", "fontSize": 12.5},
      "encoding": {"text": {"field": "t"}}
     }
    ]
   },
   {
    "width": 271, "height": 252,
    "view": {"stroke": "#555", "strokeWidth": 1.5},
    "encoding": {
     "x": {"field": "x", "type": "quantitative", "title": "F2 (19.01 %)", "scale": {"domain": [-10, 10], "nice": false, "zero": false},
           "axis": {"values": [-10,-5,0,5,10], "labelExpr": "datum.value + ''", "labelFontSize": 12.5, "titleFontSize": 12.5, "tickSize": 5, "labelPadding": 3, "titlePadding": 2, "domainColor": "#555", "domainWidth": 1.5, "tickColor": "#555", "tickWidth": 1.2}},
     "y": {"field": "y", "type": "quantitative", "title": "F2 (19.01 %)", "scale": {"domain": [-4, 4], "nice": false, "zero": false},
           "axis": {"values": [-4,-2,0,2,4], "labelExpr": "datum.value + ''", "labelFontSize": 12.5, "titleFontSize": 12.5, "tickSize": 5, "labelPadding": 3, "titlePadding": 4, "domainColor": "#555", "domainWidth": 1.5, "tickColor": "#555", "tickWidth": 1.2}}
    },
    "layer": [
     {
      "data": {"values": [{"x": 0, "y": -4, "y2": 4}]},
      "mark": {"type": "rule", "strokeDash": [2, 3], "strokeWidth": 2, "color": "#111"},
      "encoding": {"y2": {"field": "y2"}}
     },
     {
      "data": {"values": [{"x": -10, "x2": 10, "y": 0}]},
      "mark": {"type": "rule", "strokeDash": [2, 3], "strokeWidth": 2, "color": "#111"},
      "encoding": {"x2": {"field": "x2"}}
     },
     {
      "data": {"name": "load"},
      "mark": {"type": "rule", "color": "#FF0000", "strokeWidth": 1.5},
      "encoding": {
       "x": {"datum": 0.12, "type": "quantitative", "title": "F2 (19.01 %)"},
       "y": {"datum": 0, "type": "quantitative", "title": "F2 (19.01 %)"},
       "x2": {"field": "x"}, "y2": {"field": "y"}
      }
     },
     {
      "data": {"name": "loadlab"},
      "mark": {"type": "text", "fontSize": 12, "font": "Open Sans"},
      "encoding": {"text": {"field": "t"}}
     },
     {
      "data": {"values": [{"x": -12.0, "y": 3.97, "t": "(d)"}]},
      "mark": {"type": "text", "fontSize": 14},
      "encoding": {"text": {"field": "t"}}
     }
    ]
   }
  ]
 }
]
}
